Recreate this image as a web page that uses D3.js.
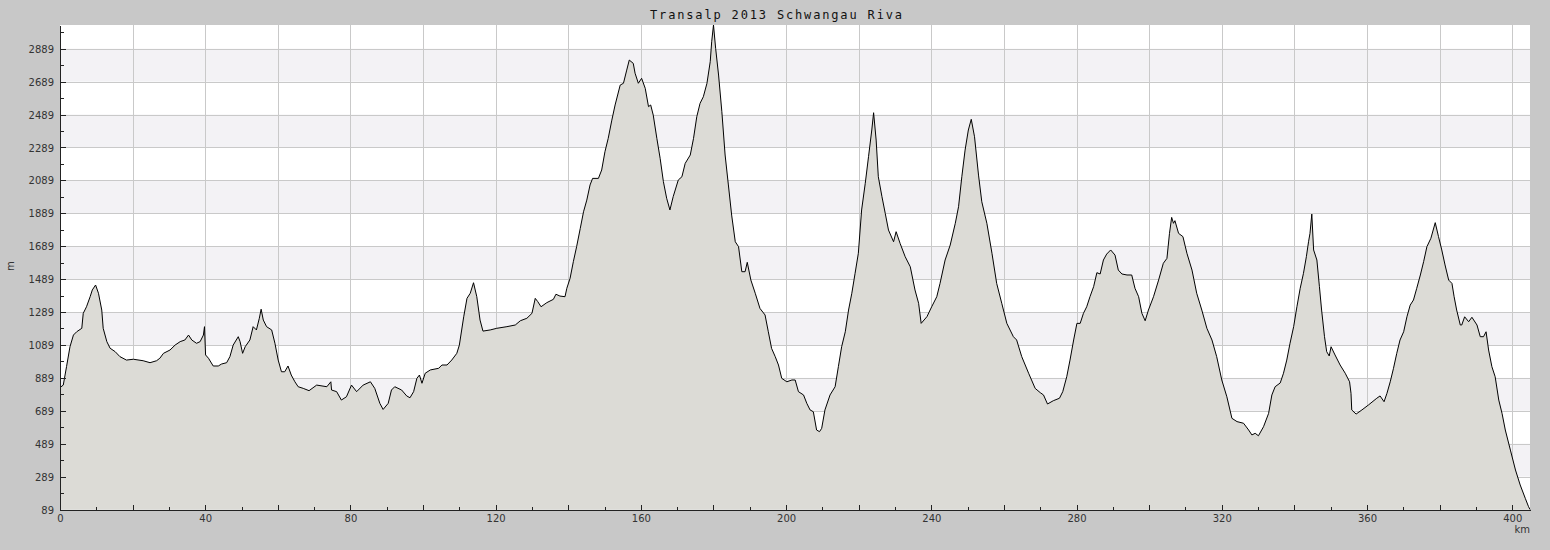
<!DOCTYPE html>
<html>
<head>
<meta charset="utf-8">
<script src="https://cdn.jsdelivr.net/npm/d3@7"></script>
<style>
html,body{margin:0;padding:0;background:#c8c8c8;}
svg{display:block;}
</style>
</head>
<body>
<svg id="chart" width="1550" height="550"></svg>
<script>
const title = "Transalp 2013 Schwangau Riva";
const xUnit = "km";
const yUnit = "m";

const distanceKm = [
0,0.9,1.8,2.75,3.7,4.6,6.0,6.4,7.3,8.3,8.9,9.8,10.6,11.5,11.9,12.9,13.8,15.2,16.5,18.3,
20.2,22.9,24.8,26.6,27.5,28.5,30.3,31.7,33.1,34.4,35.4,36.3,37.6,38.6,39.5,39.8,40.1,40.9,42.2,43.6,
44.5,45.9,46.8,47.7,49.1,49.6,50.3,51.0,52.3,53.2,54.1,54.9,55.4,56.0,56.9,58.3,59.2,60.1,61.0,61.9,
62.8,63.7,64.7,65.6,67.0,68.6,70.7,73.5,74.6,74.8,76.2,77.5,78.9,80.3,81.7,83.5,85.5,86.7,88.1,89.0,
90.4,91.3,92.2,94.1,95.5,96.4,97.4,98.3,99.0,99.7,100.6,102.0,104.3,105.2,106.6,107.9,109.3,110.0,111.2,112.1,
113.0,113.9,114.8,115.7,116.5,118.5,120.3,123.1,125.4,126.8,128.6,130.0,130.9,131.6,132.5,134.1,135.9,136.6,137.7,139.1,
139.6,140.5,141.4,142.3,143.3,144.2,145.1,146.0,146.7,148.3,149.2,150.1,151.0,152.0,152.9,154.3,155.2,156.1,156.8,157.9,
158.4,159.3,160.2,161.2,162.1,162.7,163.4,164.4,165.3,166.2,167.1,168.0,168.9,170.3,171.3,172.2,173.6,174.5,175.4,176.3,
177.2,178.2,179.1,179.5,180.0,180.6,181.4,182.3,183.2,184.1,185.0,186.0,186.9,187.8,188.7,189.3,190.3,191.5,192.8,194.2,
195.1,196.0,197.0,197.9,198.8,200.2,201.6,202.5,203.4,204.8,205.7,206.6,207.5,208.4,209.2,209.8,210.7,212.1,213.5,214.4,
215.3,216.3,217.2,218.1,219.0,219.9,220.8,221.8,222.7,223.6,224.1,224.8,225.4,226.4,227.3,228.2,229.6,230.3,231.4,232.8,
234.2,235.5,236.5,237.2,238.8,240.1,241.5,242.4,243.8,245.2,246.6,247.5,248.4,249.3,250.2,251.0,251.9,253.0,253.9,255.3,
256.7,258.0,259.4,260.8,262.6,263.5,264.9,266.8,268.6,270.0,270.9,272.0,273.6,275.3,276.2,277.3,278.2,279.2,280.1,281.0,
281.9,282.8,283.7,284.7,285.6,286.5,287.4,288.3,289.4,290.6,291.5,292.5,293.9,295.2,296.1,297.1,298.0,298.9,299.8,301.2,
302.6,303.9,304.9,305.6,306.2,306.7,307.1,308.1,309.3,310.4,311.8,313.1,314.5,315.9,317.3,318.6,320.0,321.4,322.8,324.2,
326.0,327.4,328.3,329.2,330.1,331.5,332.9,333.8,334.7,336.1,337.0,337.9,338.8,339.8,340.7,341.6,342.5,343.3,343.9,344.3,
344.8,345.3,346.2,346.9,347.5,348.3,348.9,349.6,350.1,351.2,352.6,354.0,355.2,355.6,355.8,357.0,358.6,360.4,362.7,363.6,
364.7,365.5,366.4,367.3,368.2,369.1,370.1,371.0,371.9,372.8,373.7,374.7,375.6,376.5,377.6,378.8,379.7,380.6,381.5,382.5,
383.4,384.0,384.7,385.7,386.1,386.9,388.0,388.9,390.3,391.2,392.1,392.8,393.5,394.4,395.3,396.3,397.2,398.1,399.5,400.9,
402.2,403.6,404.5,404.9
];

const elevationM = [
830,845,957,1078,1149,1169,1190,1281,1321,1382,1423,1453,1403,1301,1190,1109,1069,1048,1018,997,
1002,993,981,993,1008,1038,1058,1088,1109,1119,1149,1119,1099,1109,1149,1200,1028,1008,961,961,
973,981,1018,1088,1139,1109,1038,1078,1119,1200,1180,1251,1306,1240,1200,1180,1099,997,926,926,
961,906,865,835,825,811,845,835,865,815,805,754,774,845,805,845,865,825,734,697,
734,815,835,815,779,768,805,886,906,856,917,937,947,967,967,997,1038,1088,1260,1372,
1403,1467,1382,1240,1173,1180,1190,1200,1210,1236,1251,1281,1372,1352,1321,1346,1366,1397,1386,1382,
1433,1494,1595,1686,1797,1898,1969,2061,2101,2101,2152,2263,2344,2455,2547,2668,2679,2759,2820,2800,
2740,2679,2709,2648,2537,2547,2486,2344,2223,2081,1980,1909,1990,2091,2111,2192,2243,2344,2476,2557,
2597,2679,2810,2931,3033,2889,2729,2506,2243,2061,1878,1716,1686,1534,1534,1591,1483,1403,1311,1271,
1169,1068,1018,967,886,865,876,876,805,785,734,694,683,572,562,582,694,785,835,957,
1078,1169,1301,1403,1524,1646,1909,2071,2233,2395,2500,2334,2111,1990,1889,1787,1716,1777,1706,1625,
1564,1423,1342,1220,1261,1321,1382,1463,1605,1696,1828,1929,2111,2273,2395,2460,2354,2121,1959,1828,
1646,1463,1342,1220,1139,1119,1018,917,825,799,785,730,750,765,805,896,997,1119,1220,1220,
1281,1321,1382,1443,1528,1520,1605,1641,1666,1635,1544,1520,1514,1514,1433,1382,1281,1236,1301,1382,
1483,1585,1615,1767,1864,1828,1844,1767,1747,1646,1544,1403,1301,1190,1119,1018,876,774,643,623,
613,572,542,552,537,592,673,785,835,858,917,997,1099,1200,1321,1433,1524,1625,1716,1767,
1884,1666,1605,1443,1301,1139,1048,1022,1078,1028,967,917,865,795,694,669,694,724,765,779,
744,795,865,947,1038,1119,1169,1260,1331,1362,1433,1514,1595,1686,1737,1832,1747,1666,1575,1483,
1463,1382,1301,1210,1210,1260,1230,1257,1210,1139,1139,1169,1058,957,896,754,673,572,450,329,
238,157,106,89
];

const yTickLabels = [89,289,489,689,889,1089,1289,1489,1689,1889,2089,2289,2489,2689,2889];
const yMinorTicks = [189,389,589,789,989,1189,1389,1589,1789,1989,2189,2389,2589,2789,2989];
const xTickLabels = [0,40,80,120,160,200,240,280,320,360,400];
const xGridTicks = [20,40,60,80,100,120,140,160,180,200,220,240,260,280,300,320,340,360,380,400];
const xMinorTicks = [10,30,50,70,90,110,130,150,170,190,210,230,250,270,290,310,330,350,370,390];

(function(){
const data = distanceKm.map((d,i)=>({km:d, m:elevationM[i]}));

const svg = d3.select("#chart");
const W = 1550, H = 550;
const pLeft = 60, pRight = 1530, pTop = 25, pBottom = 509.5;

svg.append("rect").attr("width",W).attr("height",H).attr("fill","#c8c8c8");

const x = d3.scaleLinear().domain([0, d3.max(distanceKm)]).range([pLeft, pRight]);
const y = d3.scaleLinear().domain([89, d3.max(elevationM)]).range([pBottom, pTop]);

svg.append("rect").attr("x",pLeft).attr("y",pTop).attr("width",pRight-pLeft).attr("height",pBottom-pTop).attr("fill","#ffffff");

const bandStarts = yTickLabels.filter((v,i)=> i%2===1 && i < yTickLabels.length-1);
svg.append("g").selectAll("rect").data(bandStarts).join("rect")
  .attr("x",pLeft).attr("width",pRight-pLeft)
  .attr("y",d=>y(d+200)).attr("height",d=>y(d)-y(d+200))
  .attr("fill","#f3f2f5");

const grid = svg.append("g").attr("stroke","#c9c9c9").attr("stroke-width",1).attr("shape-rendering","crispEdges");
grid.selectAll("line.h").data(yTickLabels.slice(1)).join("line").attr("class","h")
  .attr("x1",pLeft).attr("x2",pRight).attr("y1",d=>Math.round(y(d))+0.5).attr("y2",d=>Math.round(y(d))+0.5);
grid.selectAll("line.v").data(xGridTicks).join("line").attr("class","v")
  .attr("y1",pTop).attr("y2",pBottom).attr("x1",d=>Math.round(x(d))+0.5).attr("x2",d=>Math.round(x(d))+0.5);

const area = d3.area().x(d=>x(d.km)).y0(pBottom).y1(d=>y(d.m));
const line = d3.line().x(d=>x(d.km)).y(d=>y(d.m));
svg.append("path").datum(data).attr("d",area).attr("fill","#dcdbd6");
svg.append("path").datum(data).attr("d",line).attr("fill","none").attr("stroke","#000").attr("stroke-width",1);

const axisColor = "#222";
const yAxis = svg.append("g").attr("transform",`translate(${pLeft},0)`)
  .call(d3.axisLeft(y).tickValues(yTickLabels).tickSize(-6).tickSizeOuter(0).tickPadding(6).tickFormat(d3.format("d")));
const yMinor = svg.append("g").attr("transform",`translate(${pLeft},0)`)
  .call(d3.axisLeft(y).tickValues(yMinorTicks).tickSize(-4).tickSizeOuter(0).tickFormat(""));
yMinor.select(".domain").remove();

const xAxis = svg.append("g").attr("transform",`translate(0,${pBottom})`)
  .call(d3.axisBottom(x).tickValues(xTickLabels).tickSize(-5).tickSizeOuter(0).tickPadding(5).tickFormat(d3.format("d")));
const xMid = svg.append("g").attr("transform",`translate(0,${pBottom})`)
  .call(d3.axisBottom(x).tickValues(xGridTicks.filter(d=>d%40!==0)).tickSize(-5).tickSizeOuter(0).tickFormat(""));
const xMinor = svg.append("g").attr("transform",`translate(0,${pBottom})`)
  .call(d3.axisBottom(x).tickValues(xMinorTicks).tickSize(-3).tickSizeOuter(0).tickFormat(""));
xMid.select(".domain").remove();
xMinor.select(".domain").remove();

svg.selectAll(".tick line, .domain").attr("stroke",axisColor).attr("shape-rendering","crispEdges");
svg.selectAll(".tick text").attr("fill","#333").style("font-family","'DejaVu Sans', sans-serif").style("font-size","10px");
yAxis.selectAll(".tick text").attr("dy","0.36em");

svg.append("text").attr("transform","translate(14,266) rotate(-90)").attr("text-anchor","middle")
  .attr("fill","#333").style("font-family","'DejaVu Sans', sans-serif").style("font-size","10px").text(yUnit);
svg.append("text").attr("x",1530).attr("y",533).attr("text-anchor","end")
  .attr("fill","#333").style("font-family","'DejaVu Sans', sans-serif").style("font-size","10px").text(xUnit);

svg.append("text").attr("x",776).attr("y",18.5).attr("text-anchor","middle")
  .attr("textLength",252).attr("lengthAdjust","spacing")
  .attr("fill","#111").style("font-family","'DejaVu Sans Mono', monospace").style("font-size","12px")
  .text(title);
})();
</script>
</body>
</html>
